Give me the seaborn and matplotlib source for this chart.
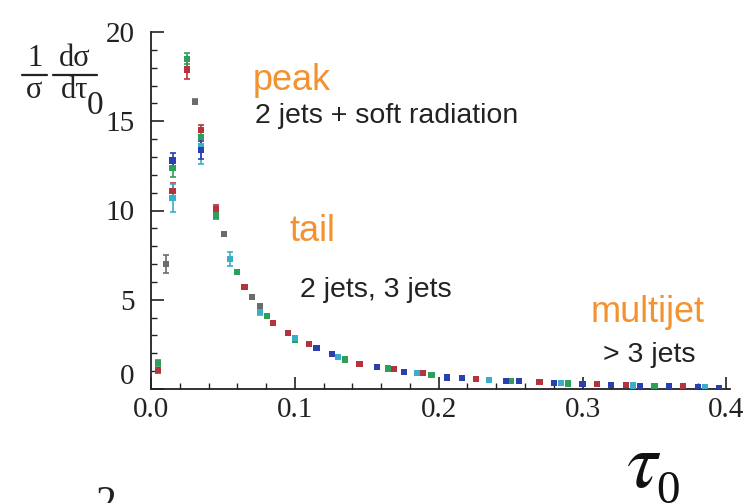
import numpy as np
import pandas as pd
import matplotlib
matplotlib.use("Agg")
import matplotlib.pyplot as plt
import matplotlib.transforms as mtransforms
from matplotlib.lines import Line2D
from matplotlib.ticker import MultipleLocator
import seaborn as sns

# Thrust-like event-shape distribution: several measurements, one colour each
tau_red = [0.005, 0.015, 0.025, 0.035, 0.045, 0.065, 0.085, 0.095, 0.110, 0.145,
           0.169, 0.189, 0.226, 0.270, 0.310, 0.330, 0.370]
val_red = [1.05, 11.1, 17.9, 14.5, 10.1, 5.7, 3.7, 3.15, 2.5, 1.4,
           1.1, 0.9, 0.55, 0.38, 0.27, 0.22, 0.14]
err_red = [0.15, 0.45, 0.55, 0.3, 0.2, 0.12, 0.08, 0.07, 0.06, 0.04,
           0.03, 0.03, 0.02, 0.02, 0.02, 0.02, 0.02]

tau_green = [0.005, 0.015, 0.025, 0.035, 0.045, 0.0597, 0.0806, 0.100, 0.135,
             0.165, 0.195, 0.250, 0.290, 0.350]
val_green = [1.45, 12.4, 18.5, 14.1, 9.7, 6.55, 4.1, 2.75, 1.65,
             1.15, 0.8, 0.46, 0.31, 0.18]
err_green = [0.15, 0.5, 0.3, 0.5, 0.2, 0.12, 0.08, 0.06, 0.04,
             0.03, 0.03, 0.02, 0.02, 0.02]

tau_teal = [0.015, 0.035, 0.055, 0.0757, 0.100, 0.130, 0.185, 0.235, 0.285, 0.335, 0.385]
val_teal = [10.7, 13.6, 7.3, 4.3, 2.85, 1.8, 0.9, 0.5, 0.32, 0.2, 0.09]
err_teal = [0.8, 1.0, 0.4, 0.15, 0.08, 0.05, 0.03, 0.02, 0.02, 0.02, 0.02]

tau_blue = [0.015, 0.035, 0.115, 0.126, 0.157, 0.176, 0.206, 0.216, 0.247, 0.256,
            0.280, 0.300, 0.320, 0.340, 0.360, 0.380, 0.395]
val_blue = [12.8, 13.4, 2.3, 1.95, 1.25, 0.95, 0.65, 0.6, 0.45, 0.45,
            0.35, 0.28, 0.23, 0.18, 0.14, 0.10, 0.06]
err_blue = [0.4, 0.5, 0.05, 0.05, 0.03, 0.03, 0.02, 0.02, 0.02, 0.02,
            0.02, 0.02, 0.02, 0.02, 0.02, 0.02, 0.02]

tau_gray = [0.0105, 0.0305, 0.0507, 0.070, 0.0757]
val_gray = [7.0, 16.1, 8.7, 5.15, 4.65]
err_gray = [0.5, 0.15, 0.1, 0.1, 0.1]

series_names = ["red", "green", "teal", "blue", "gray"]
series_colors = ["#b5323f", "#2e9e5b", "#3aaec8", "#2b3fae", "#6b6b6b"]

x_ticks = [0.0, 0.1, 0.2, 0.3, 0.4]
x_ticklabels = ["0.0", "0.1", "0.2", "0.3", "0.4"]
y_ticks = [0, 5, 10, 15, 20]
y_ticklabels = ["0", "5", "10", "15", "20"]

frames = []
for name, t, v, e in zip(series_names,
                         [tau_red, tau_green, tau_teal, tau_blue, tau_gray],
                         [val_red, val_green, val_teal, val_blue, val_gray],
                         [err_red, err_green, err_teal, err_blue, err_gray]):
    frames.append(pd.DataFrame({"tau": t, "val": v, "err": e, "exp": name}))
df = pd.concat(frames, ignore_index=True)

sns.set_style("ticks")
plt.rcParams["font.family"] = ["Liberation Serif", "DejaVu Serif"]
plt.rcParams["mathtext.fontset"] = "stix"

W, H = 746, 503
fig = plt.figure(figsize=(W / 100, H / 100), dpi=100)
ax = fig.add_axes([151 / W, 1 - 389 / H, 579 / W, 357 / H])

palette = dict(zip(series_names, series_colors))
for name in series_names:
    sub = df[df["exp"] == name]
    ax.errorbar(sub["tau"], sub["val"], yerr=sub["err"], fmt="none",
                ecolor=palette[name], elinewidth=1.2, capsize=2.5,
                capthick=1.2, zorder=2)
sns.scatterplot(data=df, x="tau", y="val", hue="exp", palette=palette,
                marker="s", s=20, linewidth=0, legend=False, ax=ax, zorder=3)

ax.set_xlim(0, 0.4025)
ax.set_ylim(0, 20)
ax.set_xticks(x_ticks)
ax.set_xticklabels(x_ticklabels)
ax.set_yticks(y_ticks)
ax.set_yticklabels(y_ticklabels)
ax.xaxis.set_minor_locator(MultipleLocator(0.02))
ax.yaxis.set_minor_locator(MultipleLocator(1))
ax.tick_params(which="major", direction="in", length=9, width=1.2,
               labelsize=21, colors="#222222")
ax.tick_params(axis="x", which="major", pad=6)
ax.tick_params(axis="y", which="major", pad=12)
ax.tick_params(which="minor", direction="in", length=4, width=1.0,
               colors="#222222")
for side in ("top", "right"):
    ax.spines[side].set_visible(False)
for side in ("left", "bottom"):
    ax.spines[side].set_linewidth(1.3)
    ax.spines[side].set_color("#222222")
ax.set_xlabel("")
ax.set_ylabel("")

# lift the "0" on the y axis clear of the x-axis labels
zero_lbl = ax.get_yticklabels()[0]
zero_lbl.set_transform(zero_lbl.get_transform() +
                       mtransforms.ScaledTranslation(0, 15 / 100, fig.dpi_scale_trans))

# Region annotations
orange = "#f3922f"
sans = ["Liberation Sans", "DejaVu Sans"]
ax.text(0.0705, 17.3, "peak", color=orange, fontsize=26, family=sans, va="center")
ax.text(0.0722, 15.3, "2 jets + soft radiation", color="#222222", fontsize=20.5,
        family=sans, va="center")
ax.text(0.0965, 8.8, "tail", color=orange, fontsize=26, family=sans, va="center")
ax.text(0.1035, 5.55, "2 jets, 3 jets", color="#222222", fontsize=20.5,
        family=sans, va="center")
ax.text(0.3056, 4.26, "multijet", color=orange, fontsize=26, family=sans, va="center")
ax.text(0.3139, 1.9, "> 3 jets", color="#222222", fontsize=20.5,
        family=sans, va="center")


def px(x, y):
    """Figure-fraction coordinates from pixel position (top-left origin)."""
    return x / W, 1 - y / H


# y-axis label: (1/σ)(dσ/dτ) written as two stacked fractions
ink = "#222222"
for num, den, x0, x1 in [("1", "σ", 22, 47), ("dσ", "dτ", 53, 97)]:
    xc = (x0 + x1) / 2
    fig.text(*px(xc, 58), num, fontsize=22, ha="center", va="center", color=ink)
    fig.text(*px(xc, 91), den, fontsize=22, ha="center", va="center", color=ink)
    fig.add_artist(Line2D([x0 / W, x1 / W], [1 - 75 / H, 1 - 75 / H],
                          color=ink, linewidth=1.6))
fig.text(*px(87, 106), "0", fontsize=24, ha="left", va="center", color=ink)

# x-axis label τ0
fig.text(*px(626, 468), r"$\tau$", fontsize=56, ha="left", va="center",
         color="#111111")
fig.text(*px(656, 492), "0", fontsize=34, ha="left", va="center", color="#111111")
fig.text(*px(95, 505), "2", fontsize=30, ha="left", va="center", color=ink)

fig.savefig("out.png", dpi=100)
